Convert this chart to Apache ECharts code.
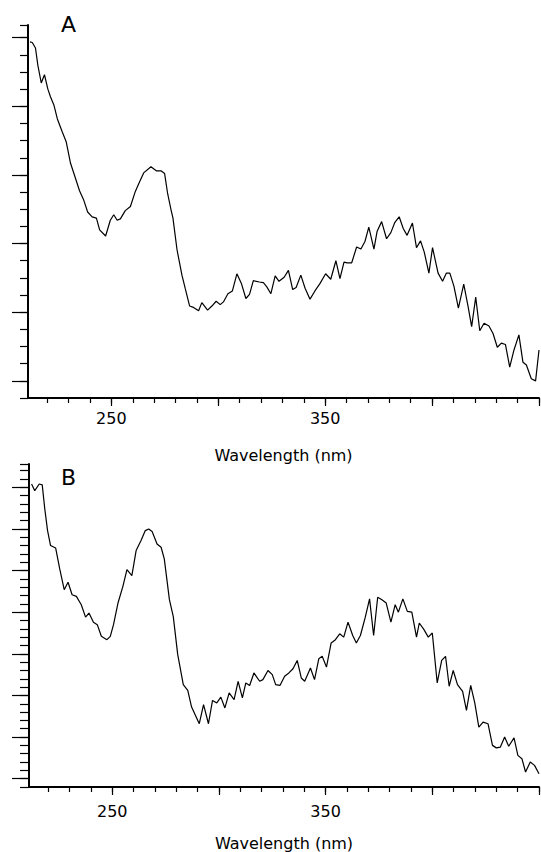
<!DOCTYPE html>
<html>
<head>
<meta charset="utf-8">
<script src="https://cdn.jsdelivr.net/npm/echarts@6/dist/echarts.min.js"></script>
<style>
  html, body { margin: 0; padding: 0; background: #fff; }
  #chart { width: 541px; height: 852px; }
</style>
</head>
<body>
<div id="chart"></div>
<script>
// panel A spectrum
var aWavelength = [211.9, 213.0, 214.5, 215.6, 217.2, 218.7, 220.3, 221.5, 223.1, 224.7, 227.0, 228.9, 230.9, 232.7, 235.1, 237.1, 238.9, 241.0, 243.0, 244.5, 247.3, 249.5, 251.1, 252.7, 254.2, 256.5, 258.9, 261.2, 263.2, 265.1, 268.5, 271.0, 273.2, 274.9, 276.3, 277.9, 278.8, 280.7, 283.0, 284.5, 286.6, 288.4, 290.8, 292.3, 295.0, 297.0, 299.0, 300.9, 302.4, 304.5, 306.6, 308.7, 310.8, 312.9, 314.6, 316.4, 319.2, 321.1, 322.7, 324.6, 326.6, 328.4, 330.8, 332.8, 334.8, 336.4, 338.6, 340.6, 342.9, 345.2, 347.6, 350.2, 352.6, 355.0, 356.9, 358.8, 360.3, 362.4, 364.7, 366.7, 368.6, 370.4, 372.8, 374.3, 376.4, 378.7, 380.7, 382.6, 384.6, 386.5, 388.3, 390.8, 392.7, 394.6, 396.3, 398.5, 400.2, 402.8, 404.9, 406.7, 408.3, 410.2, 412.3, 414.8, 416.8, 418.5, 420.4, 422.3, 424.3, 426.6, 428.5, 430.5, 432.4, 434.3, 436.3, 438.3, 440.6, 442.5, 444.1, 446.4, 448.4, 450.0];
var aAbsorbance = [0.494, 0.493, 0.485, 0.460, 0.434, 0.446, 0.425, 0.414, 0.402, 0.382, 0.363, 0.348, 0.317, 0.300, 0.277, 0.263, 0.246, 0.239, 0.237, 0.220, 0.211, 0.234, 0.242, 0.234, 0.236, 0.248, 0.254, 0.276, 0.290, 0.303, 0.312, 0.306, 0.306, 0.302, 0.273, 0.249, 0.237, 0.191, 0.154, 0.135, 0.109, 0.107, 0.102, 0.114, 0.103, 0.109, 0.116, 0.111, 0.115, 0.127, 0.131, 0.156, 0.142, 0.120, 0.126, 0.146, 0.144, 0.143, 0.137, 0.127, 0.153, 0.145, 0.151, 0.161, 0.133, 0.136, 0.154, 0.135, 0.119, 0.131, 0.142, 0.156, 0.148, 0.175, 0.149, 0.173, 0.172, 0.172, 0.195, 0.192, 0.203, 0.224, 0.192, 0.218, 0.232, 0.207, 0.216, 0.231, 0.239, 0.222, 0.212, 0.230, 0.194, 0.204, 0.188, 0.157, 0.194, 0.157, 0.145, 0.157, 0.157, 0.138, 0.106, 0.141, 0.109, 0.079, 0.122, 0.073, 0.084, 0.080, 0.069, 0.049, 0.055, 0.053, 0.020, 0.045, 0.067, 0.027, 0.023, 0.003, 0.000, 0.045];

// panel B spectrum
var bWavelength = [212.2, 213.7, 215.8, 217.2, 218.4, 219.7, 221.1, 223.5, 225.4, 227.5, 229.3, 231.2, 233.2, 235.5, 237.5, 239.1, 241.2, 243.0, 244.9, 247.5, 249.1, 250.6, 252.7, 255.0, 256.9, 259.2, 261.2, 263.5, 265.5, 267.1, 268.7, 271.0, 272.9, 274.4, 276.8, 278.6, 280.7, 283.3, 285.4, 287.2, 290.8, 292.8, 295.1, 297.0, 299.0, 300.9, 302.8, 304.8, 307.1, 309.0, 311.0, 312.6, 314.4, 316.4, 319.1, 320.6, 323.0, 325.0, 326.6, 328.6, 330.8, 332.8, 334.7, 336.7, 338.6, 340.2, 342.9, 344.8, 346.8, 348.4, 350.4, 352.6, 354.6, 356.6, 358.5, 360.5, 362.7, 364.4, 366.3, 368.6, 370.6, 372.5, 374.4, 376.4, 378.4, 380.6, 382.6, 384.1, 386.2, 388.3, 390.4, 392.6, 393.9, 396.1, 398.1, 400.0, 402.3, 404.4, 406.2, 407.9, 409.8, 411.8, 414.2, 416.0, 418.0, 419.9, 421.8, 423.8, 426.1, 428.2, 430.0, 431.9, 433.9, 435.8, 438.3, 440.1, 442.0, 443.7, 445.9, 447.9, 450.0];
var bAbsorbance = [0.354, 0.346, 0.354, 0.353, 0.324, 0.298, 0.280, 0.277, 0.252, 0.227, 0.236, 0.221, 0.219, 0.209, 0.194, 0.199, 0.188, 0.185, 0.171, 0.167, 0.171, 0.185, 0.211, 0.231, 0.251, 0.244, 0.274, 0.286, 0.298, 0.300, 0.297, 0.282, 0.278, 0.264, 0.215, 0.195, 0.149, 0.113, 0.106, 0.086, 0.066, 0.089, 0.066, 0.094, 0.091, 0.098, 0.085, 0.103, 0.095, 0.117, 0.097, 0.115, 0.112, 0.127, 0.117, 0.119, 0.130, 0.125, 0.113, 0.112, 0.123, 0.127, 0.132, 0.142, 0.121, 0.117, 0.133, 0.119, 0.144, 0.147, 0.134, 0.163, 0.167, 0.174, 0.170, 0.188, 0.172, 0.163, 0.172, 0.194, 0.216, 0.172, 0.218, 0.215, 0.211, 0.188, 0.209, 0.200, 0.216, 0.201, 0.200, 0.170, 0.187, 0.179, 0.170, 0.175, 0.115, 0.142, 0.147, 0.111, 0.130, 0.113, 0.105, 0.082, 0.112, 0.091, 0.062, 0.068, 0.066, 0.040, 0.037, 0.038, 0.050, 0.039, 0.049, 0.028, 0.024, 0.008, 0.020, 0.016, 0.006];

// tick positions
var xMinorTicks = [220, 230, 240, 250, 260, 270, 280, 290, 300, 310, 320, 330, 340, 350, 360, 370, 380, 390, 400, 410, 420, 430, 440, 450];
var xMajorTicks = [250, 300, 350, 400, 450];
var xTickLabels = [250, 350];
var aMajorTicks = [0, 0.1, 0.2, 0.3, 0.4, 0.5];
var bMajorTicks = [0, 0.05, 0.1, 0.15, 0.2, 0.25, 0.3, 0.35];
var panelLabels = ['A', 'B'];

var FONT = 'DejaVu Sans';

function pairs(xs, ys) {
  return xs.map(function (x, i) { return [x, ys[i]]; });
}

// x axis with minor ticks, labels and name
function xMain(gridIndex, margin, gap) {
  return {
    type: 'value', gridIndex: gridIndex, position: 'bottom', offset: 0, min: 211, max: 450,
    name: 'Wavelength (nm)', nameLocation: 'middle', nameGap: gap,
    nameTextStyle: { color: '#000', fontSize: 16, fontFamily: FONT },
    axisLine: { show: true, onZero: false, lineStyle: { color: '#000', width: 2 } },
    axisTick: { show: true, customValues: xMinorTicks, length: 5, lineStyle: { color: '#000', width: 1.2 } },
    axisLabel: { show: true, customValues: xTickLabels, margin: margin, color: '#000', fontSize: 16, fontFamily: FONT },
    splitLine: { show: false }
  };
}
// overlay x axis that only draws the longer major ticks
function xMajor(gridIndex) {
  return {
    type: 'value', gridIndex: gridIndex, position: 'bottom', offset: 0, min: 211, max: 450,
    axisLine: { show: false, onZero: false },
    axisTick: { show: true, customValues: xMajorTicks, length: 8, lineStyle: { color: '#000', width: 1.2 } },
    axisLabel: { show: false },
    splitLine: { show: false }
  };
}
function yMinor(gridIndex, min, max, interval, len) {
  return {
    type: 'value', gridIndex: gridIndex, position: 'left', offset: 0, min: min, max: max, interval: interval,
    axisLine: { show: true, onZero: false, lineStyle: { color: '#000', width: 2 } },
    axisTick: { show: true, length: len, lineStyle: { color: '#000', width: 1.2 } },
    axisLabel: { show: false },
    splitLine: { show: false }
  };
}
function yMajor(gridIndex, min, max, ticks, len) {
  return {
    type: 'value', gridIndex: gridIndex, position: 'left', offset: 0, min: min, max: max,
    axisLine: { show: false, onZero: false },
    axisTick: { show: true, customValues: ticks, length: len, lineStyle: { color: '#000', width: 1.2 } },
    axisLabel: { show: false },
    splitLine: { show: false }
  };
}

var chart = echarts.init(document.getElementById('chart'), null, { renderer: 'svg' });

var option = {
  backgroundColor: '#fff',
  animation: false,
  grid: [
    { left: 28, right: 2, top: 25, height: 373 },
    { left: 29, right: 2, top: 464, height: 328 }
  ],
  xAxis: [xMain(0, 12, 49), xMajor(0), xMain(1, 16, 48), xMajor(1)],
  yAxis: [
    yMinor(0, -0.025, 0.5185, 0.025, 8),
    yMajor(0, -0.025, 0.5185, aMajorTicks, 16),
    yMinor(1, -0.01, 0.378, 0.01, 9),
    yMajor(1, -0.01, 0.378, bMajorTicks, 17)
  ],
  graphic: [
    { type: 'text', x: 61, y: 24, style: { text: panelLabels[0], font: '22px "' + FONT + '"', fill: '#000', textVerticalAlign: 'middle' } },
    { type: 'text', x: 61, y: 477, style: { text: panelLabels[1], font: '22px "' + FONT + '"', fill: '#000', textVerticalAlign: 'middle' } }
  ],
  series: [
    {
      type: 'line', xAxisIndex: 0, yAxisIndex: 0,
      data: pairs(aWavelength, aAbsorbance),
      showSymbol: false, lineStyle: { color: '#000', width: 1.2 }
    },
    {
      type: 'line', xAxisIndex: 2, yAxisIndex: 2,
      data: pairs(bWavelength, bAbsorbance),
      showSymbol: false, lineStyle: { color: '#000', width: 1.2 }
    }
  ]
};

chart.setOption(option);
</script>
</body>
</html>
